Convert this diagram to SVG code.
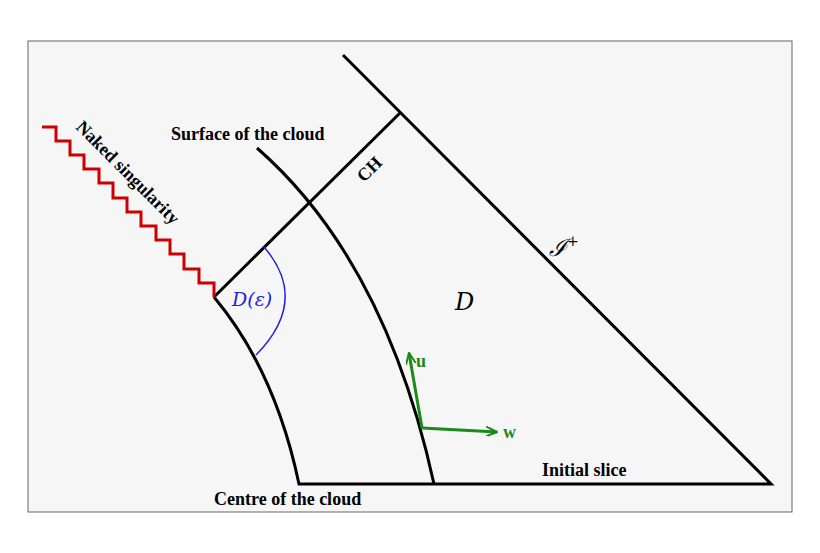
<svg xmlns="http://www.w3.org/2000/svg" width="820" height="553" viewBox="0 0 820 553">
<style>
.l{fill:none;stroke:#000;stroke-width:3}
.t{font-family:"Liberation Serif",serif;font-weight:bold;font-size:18px}
.m{font-family:"DejaVu Serif",serif;font-style:italic}
</style>
<defs><marker id="a" markerWidth="12" markerHeight="10" refX="11" refY="5" orient="auto" markerUnits="userSpaceOnUse"><path d="M0,0 L11,5 L0,10" fill="none" stroke="#1a8a1a" stroke-width="2"/></marker></defs>
<rect width="820" height="553" fill="#fff"/>
<rect x="28" y="41" width="764" height="471" fill="#f6f6f6" stroke="#666" stroke-width="1"/>
<g id="connectors">
<path class="l" d="M214,297 Q275,370 299,484 H771 L343,55"/>
<path class="l" d="M214,297 L400,113"/>
<path class="l" d="M257,148 Q385,260 434,484"/>
<path d="M42,127 H56 V141 H70 V155 H84 V169 H99 V183 H113 V198 H127 V212 H141 V226 H156 V240 H170 V254 H184 V269 H199 V283 H214 V297" fill="none" stroke="#c00" stroke-width="3"/>
<path d="M264,247 Q310,300 256,355" fill="none" stroke="#22d" stroke-width="1.5"/>
<path d="M422,428 L409,353" fill="none" stroke="#1a8a1a" stroke-width="3" marker-end="url(#a)"/>
<path d="M422,428 L497,432" fill="none" stroke="#1a8a1a" stroke-width="3" marker-end="url(#a)"/>
</g>
<g id="labels">
<text class="t" x="171" y="140">Surface of the cloud</text>
<text class="t" font-size="20" transform="translate(75,128) rotate(45)">Naked singularity</text>
<text class="t" transform="translate(364,183) rotate(-45)">CH</text>
<text class="t" x="542" y="476">Initial slice</text>
<text class="t" x="214" y="505">Centre of the cloud</text>
<text class="t" x="416" y="367" fill="#1a8a1a" font-size="19">u</text>
<text class="t" x="503" y="438" fill="#1a8a1a" font-size="19">w</text>
<text class="m" x="232" y="306" font-size="19" fill="#22d">D(ε)</text>
<text class="m" x="455" y="310" font-size="24">D</text>
<text x="549" y="256" font-size="24" font-family="DejaVu Serif,serif" font-style="italic">ℐ<tspan font-size="14" dy="-10">+</tspan></text>
</g>
</svg>
